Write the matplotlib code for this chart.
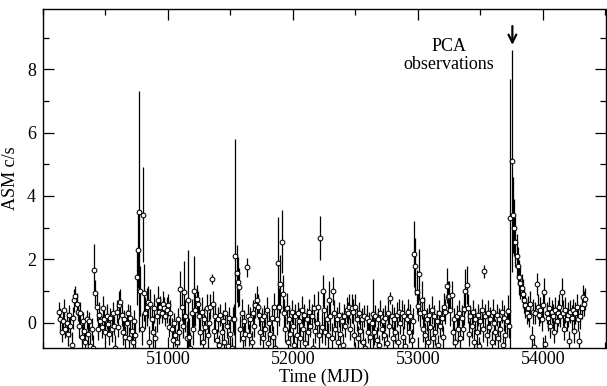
#!/usr/bin/env python
"""
ASM light curve with error bars, PCA observation marked by an arrow.
"""

import numpy as np
import matplotlib as mpl
mpl.use('Agg')
import matplotlib.pyplot as plt
from matplotlib.ticker import MultipleLocator

plt.rcParams['font.family'] = ['Liberation Serif', 'DejaVu Serif']

"""------------------------------------- DATA -----------------------------------------"""

# ASM rate, 10-day bins starting at MJD 50130 (one row = 100 days)
mjd_start = 50130
bin_days = 10

rate = [
    0.35, 0.1, -0.3, 0.05, 0.4, -0.2, 0.0, -0.35, 0.25, -0.1,      # 50130
    -0.7, 0.15, 0.7, 0.85, 0.6, 0.35, -0.1, 0.3, -0.45, 0.05,      # 50230
    -0.25, -0.6, 0.1, -0.35, 0.05, -0.75, -0.2, -0.8, 1.67, 0.95,  # 50330
    0.5, -0.2, 0.25, 0.05, -0.15, 0.45, 0.1, -0.3, 0.2, -0.05,     # 50430
    -0.35, 0.15, -0.2, 0.3, -0.1, -0.8, 0.35, -0.15, 0.55, 0.65,   # 50530
    0.25, -0.3, 0.1, -0.45, 0.0, 0.3, -0.5, 0.15, -0.25, -0.6,     # 50630
    0.05, -0.4, 1.45, 2.28, 3.5, 1.0, -0.2, 3.4, 0.95, 0.3,        # 50730
    0.5, 0.65, -0.6, 0.6, 0.1, -0.3, 0.45, -0.5, 0.2, 0.7,         # 50830
    0.35, 0.5, 0.3, 0.6, 0.45, 0.2, 0.4, 0.55, -0.15, 0.3,         # 50930
    -0.2, -0.55, 0.0, -0.4, -0.6, 0.1, -0.3, 1.07, 0.5, -0.1,      # 51030
    0.96, 0.2, -0.5, 0.7, -0.45, -0.8, 0.3, -0.2, 1.0, 0.4,        # 51130
    0.75, 0.6, 0.2, -0.3, 0.35, -0.6, 0.1, -0.15, 0.45, -0.4,      # 51230
    0.0, 0.5, 1.37, 0.6, -0.25, 0.2, -0.55, 0.1, -0.7, 0.25,       # 51330
    -0.3, 0.05, -0.6, 0.3, -0.1, -0.75, 0.15, -0.35, -0.8, 0.1,    # 51430
    0.1, 2.1, 1.56, 1.28, 1.12, -0.2, 0.3, -0.5, 0.05, -0.35,      # 51530
    1.75, 0.2, -0.4, 0.1, -0.6, 0.3, -0.1, 0.55, 0.7, 0.5,         # 51630
    0.25, -0.3, 0.1, -0.5, 0.2, -0.2, 0.4, -0.65, 0.0, -0.35,      # 51730
    0.15, -0.45, 0.5, -0.8, 0.1, 1.88, 0.5, 1.22, 2.56, 0.9,       # 51830
    0.3, -0.2, 0.45, -0.6, 0.1, -0.35, 0.35, -0.1, -0.7, 0.2,      # 51930
    -0.4, 0.3, 0.05, -0.5, 0.4, -0.2, 0.25, -0.65, 0.1, -0.3,      # 52030
    0.35, -0.1, 0.2, -0.8, 0.45, -0.25, 0.0, 0.5, -0.4, 2.68,      # 52130
    -0.15, 1.0, 0.4, -0.3, 0.1, -0.4, 0.7, 0.2, -0.5, 1.0,         # 52230
    0.3, -0.2, 0.1, -0.6, 0.25, -0.35, 0.05, -0.7, 0.2, -0.1,      # 52330
    0.4, 0.3, 0.5, -0.2, 0.45, 0.35, -0.4, 0.5, 0.1, -0.5,         # 52430
    0.3, -0.25, 0.1, -0.6, 0.2, -0.8, 0.15, -0.3, 0.05, -0.45,     # 52530
    0.0, 0.27, -0.3, 0.2, -0.55, 0.1, -0.7, 0.3, -0.2, 0.05,       # 52630
    -0.4, 0.15, -0.65, 0.3, -0.1, 0.78, 0.2, -0.5, 0.1, -0.3,      # 52730
    0.25, -0.6, 0.35, 0.0, 0.3, -0.45, 0.2, -0.75, 0.1, 0.35,      # 52830
    -0.3, 0.2, -0.55, 0.05, 2.17, 1.78, 0.96, 0.54, 1.52, 0.3,     # 52930
    0.7, -0.2, 0.35, -0.4, 0.1, -0.6, 0.25, -0.15, 0.4, -0.5,      # 53030
    0.2, -0.3, 0.05, -0.7, 0.3, -0.1, 0.15, -0.45, 0.5, 0.35,      # 53130
    1.17, 0.8, 0.85, 0.4, 0.88, -0.3, 0.1, -0.6, 0.2, -0.2,        # 53230
    0.3, -0.5, 0.15, -0.2, 0.43, 1.0, 1.2, 0.45, -0.35, 0.2,       # 53330
    -0.1, 0.35, -0.6, 0.1, -0.3, 0.25, -0.75, 0.05, 0.4, -0.2,     # 53430
    1.62, 0.2, -0.4, 0.3, -0.15, 0.1, -0.6, 0.35, 0.0, -0.3,       # 53530
    0.25, -0.5, 0.1, -0.2, 0.35, -0.7, 0.15, -0.4, 0.05, 0.38,     # 53630
    -0.1, 3.3, 5.1, 3.4, 3.0, 2.55, 2.1, 1.8, 1.43, 1.25,          # 53730
    1.1, 0.92, 0.7, 0.55, 0.3, 0.45, 0.2, 0.6, -0.45, 0.35,        # 53830
    -0.78, 0.3, 1.23, 0.5, 0.25, 0.4, 0.1, 0.55, 0.96, -0.68,      # 53930
    0.3, 0.15, 0.45, -0.1, 0.35, 0.2, -0.3, 0.4, 0.05, 0.3,        # 54030
    0.5, 0.2, 0.96, 0.3, -0.2, 0.4, 0.1, 0.25, -0.57, 0.35,        # 54130
    0.15, 0.4, -0.25, 0.3, 0.5, 0.1, -0.57, 0.2, 0.45, 0.8,        # 54230
    0.6, 0.75,                                                     # 54330
]

rate_err = [
    0.3, 0.35, 0.3, 0.4, 0.35, 0.3, 0.35, 0.4, 0.3, 0.35,
    0.4, 0.35, 0.35, 0.3, 0.35, 0.3, 0.4, 0.35, 0.4, 0.3,
    0.35, 0.4, 0.3, 0.35, 0.3, 0.4, 0.35, 0.4, 0.8, 0.4,
    0.45, 0.35, 0.4, 0.3, 0.35, 0.4, 0.3, 0.35, 0.4, 0.3,
    0.35, 0.3, 0.4, 0.35, 0.3, 0.4, 0.35, 0.3, 0.45, 0.4,
    0.35, 0.4, 0.3, 0.35, 0.4, 0.3, 0.35, 0.4, 0.3, 0.4,
    0.35, 0.4, 0.9, 1.2, 3.8, 0.8, 0.5, 1.5, 0.9, 0.5,
    0.6, 0.5, 0.5, 0.45, 0.4, 0.5, 0.45, 0.4, 0.5, 0.45,
    0.4, 0.35, 0.3, 0.4, 0.35, 0.3, 0.4, 0.35, 0.3, 0.4,
    0.35, 0.4, 0.3, 0.35, 0.4, 0.35, 0.4, 0.55, 0.45, 0.4,
    1.0, 0.5, 0.55, 1.6, 0.6, 0.5, 0.45, 0.5, 1.1, 0.5,
    0.45, 0.4, 0.5, 0.4, 0.45, 0.4, 0.35, 0.4, 0.45, 0.4,
    0.35, 0.4, 0.15, 0.4, 0.35, 0.4, 0.35, 0.4, 0.3, 0.35,
    0.4, 0.35, 0.4, 0.35, 0.4, 0.3, 0.35, 0.4, 0.35, 0.4,
    0.5, 3.7, 0.9, 0.8, 0.6, 0.4, 0.45, 0.4, 0.35, 0.4,
    0.3, 0.4, 0.35, 0.4, 0.35, 0.4, 0.35, 0.4, 0.45, 0.4,
    0.35, 0.4, 0.35, 0.4, 0.35, 0.3, 0.4, 0.35, 0.4, 0.35,
    0.4, 0.35, 0.45, 0.4, 0.5, 1.45, 0.6, 0.9, 1.0, 0.6,
    0.45, 0.4, 0.5, 0.4, 0.45, 0.4, 0.35, 0.4, 0.3, 0.4,
    0.4, 0.35, 0.4, 0.35, 0.45, 0.4, 0.35, 0.4, 0.35, 0.4,
    0.4, 0.35, 0.4, 0.3, 0.45, 0.4, 0.35, 0.5, 0.4, 0.7,
    0.5, 0.5, 0.6, 0.4, 0.45, 0.4, 0.6, 0.45, 0.5, 0.45,
    0.4, 0.35, 0.4, 0.35, 0.4, 0.35, 0.3, 0.35, 0.4, 0.35,
    0.4, 0.35, 0.4, 0.35, 0.45, 0.4, 0.35, 0.4, 0.35, 0.4,
    0.35, 0.4, 0.35, 0.4, 0.35, 0.3, 0.4, 0.35, 0.3, 0.4,
    0.35, 1.1, 0.4, 0.35, 0.4, 0.35, 0.3, 0.4, 0.35, 0.4,
    0.35, 0.4, 0.3, 0.4, 0.35, 0.2, 0.4, 0.35, 0.4, 0.35,
    0.4, 0.35, 0.4, 0.35, 0.4, 0.35, 0.4, 0.3, 0.35, 0.4,
    0.35, 0.4, 0.35, 0.4, 1.05, 0.9, 0.7, 0.5, 0.8, 0.45,
    0.6, 0.4, 0.45, 0.4, 0.35, 0.4, 0.35, 0.4, 0.45, 0.4,
    0.35, 0.4, 0.35, 0.3, 0.4, 0.35, 0.4, 0.35, 0.45, 0.4,
    0.55, 0.5, 0.45, 0.5, 0.45, 0.4, 0.35, 0.4, 0.35, 0.4,
    0.4, 0.35, 0.4, 0.35, 0.5, 0.7, 0.6, 0.45, 0.4, 0.35,
    0.4, 0.35, 0.4, 0.35, 0.4, 0.35, 0.3, 0.4, 0.35, 0.4,
    0.2, 0.4, 0.35, 0.4, 0.35, 0.4, 0.35, 0.4, 0.35, 0.4,
    0.35, 0.4, 0.35, 0.4, 0.35, 0.3, 0.4, 0.35, 0.4, 0.5,
    0.4, 4.4, 3.5, 1.2, 0.9, 0.8, 0.7, 0.6, 0.55, 0.5,
    0.45, 0.45, 0.4, 0.4, 0.35, 0.4, 0.35, 0.4, 0.35, 0.4,
    0.3, 0.35, 0.35, 0.4, 0.35, 0.4, 0.35, 0.4, 0.45, 0.3,
    0.35, 0.4, 0.35, 0.4, 0.35, 0.4, 0.35, 0.4, 0.35, 0.4,
    0.4, 0.35, 0.45, 0.4, 0.35, 0.4, 0.35, 0.4, 0.3, 0.35,
    0.4, 0.35, 0.4, 0.35, 0.4, 0.35, 0.3, 0.4, 0.35, 0.4,
    0.4, 0.35,
]

pca_mjd = 53755

"""------------------------------------------------------------------------------------"""

mjd = mjd_start + bin_days * np.arange(len(rate))

fig = plt.figure(figsize=(6.07, 3.86), dpi=100)
ax = fig.add_axes([43/607., 38/386., 562.5/607., 339/386.])

ax.errorbar(mjd, rate, yerr=rate_err, fmt='o', ms=3.4, mfc='white', mec='black', mew=0.75,
            ecolor='black', elinewidth=0.9, capsize=0, zorder=2)

ax.set_xlim(50000, 54500)
ax.set_ylim(-0.8, 9.9)

ax.xaxis.set_major_locator(MultipleLocator(1000))
ax.xaxis.set_minor_locator(MultipleLocator(500))
ax.yaxis.set_major_locator(MultipleLocator(2))
ax.yaxis.set_minor_locator(MultipleLocator(1))
ax.tick_params(which='both', direction='in', top=True, right=True, width=0.9, labelsize=13)
ax.tick_params(which='major', length=8)
ax.tick_params(which='minor', length=4)
ax.tick_params(axis='x', pad=2)
ax.tick_params(axis='y', pad=5)
ax.set_xticks([51000, 52000, 53000, 54000])
for sp in ax.spines.values():
    sp.set_linewidth(1.0)

ax.set_xlabel('Time (MJD)', fontsize=13, va='center')
ax.xaxis.set_label_coords(0.5, -0.088)
ax.set_ylabel('ASM c/s', fontsize=13, labelpad=6)

ax.annotate('', xy=(pca_mjd, 8.68), xytext=(pca_mjd, 9.45),
            arrowprops=dict(arrowstyle='->', lw=1.6, color='black', mutation_scale=14))
ax.text(53248, 8.73, 'PCA', ha='center', va='center', fontsize=13)
ax.text(53248, 8.16, 'observations', ha='center', va='center', fontsize=13)

plt.savefig('out.png', dpi=100)
plt.close()
